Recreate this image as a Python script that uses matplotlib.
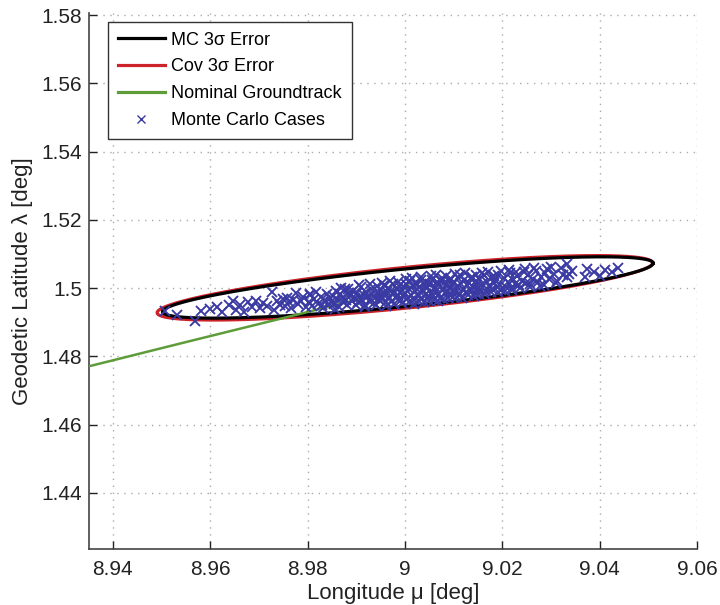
import numpy as np
import matplotlib
matplotlib.use("Agg")
import matplotlib.pyplot as plt

plt.rcParams['font.family'] = ['Liberation Sans', 'DejaVu Sans']

# ---- error ellipses: centre and 1-sigma covariance (deg^2) ----
mc_center = [9.0006, 1.5002]
mc_cov = [[2.8224e-4, 3.976e-5], [3.976e-5, 8.962e-6]]
cov_center = [9.0000, 1.5001]
cov_cov = [[2.8787e-4, 4.128e-5], [4.128e-5, 9.900e-6]]
n_sigma = 3

# ---- nominal groundtrack ----
track_lon = [8.9300, 8.9550, 8.9777, 9.0006]
track_lat = [1.4753, 1.4842, 1.4922, 1.5003]

# ---- Monte Carlo landing cases ----
mc_lon = [
    8.9508, 8.9531,
    8.9568, 8.9582, 8.9599,
    8.9615, 8.9624, 8.9638, 8.9646,
    8.9652, 8.9661, 8.9669, 8.9678, 8.9686, 8.9694,
    8.9703, 8.9709, 8.9716, 8.9726, 8.9731, 8.9738, 8.9744, 8.9749,
    8.9753, 8.9758, 8.9762, 8.9767, 8.9771, 8.9776, 8.9781, 8.9786, 8.9791, 8.9796,
    8.9802, 8.9806, 8.9810, 8.9814, 8.9818, 8.9822, 8.9827, 8.9831, 8.9835, 8.9839,
    8.9843, 8.9846, 8.9849,
    8.9852, 8.9855, 8.9858, 8.9861, 8.9864, 8.9867, 8.9870, 8.9873, 8.9876, 8.9879,
    8.9882, 8.9885, 8.9888, 8.9891, 8.9894, 8.9897,
    8.9901, 8.9903, 8.9906, 8.9909, 8.9912, 8.9915, 8.9918, 8.9921, 8.9924, 8.9927,
    8.9930, 8.9933, 8.9936, 8.9939, 8.9942, 8.9945, 8.9947, 8.9949,
    8.9951, 8.9953, 8.9956, 8.9958, 8.9961, 8.9963, 8.9966, 8.9968, 8.9971, 8.9973,
    8.9976, 8.9978, 8.9981, 8.9983, 8.9986, 8.9988, 8.9991, 8.9993, 8.9996, 8.9998,
    9.0001, 9.0003, 9.0006, 9.0008, 9.0011, 9.0013, 9.0016, 9.0018, 9.0021, 9.0023,
    9.0026, 9.0028, 9.0031, 9.0033, 9.0036, 9.0038, 9.0041, 9.0043, 9.0046, 9.0048,
    9.0051, 9.0053, 9.0056, 9.0058, 9.0061, 9.0063, 9.0066, 9.0068, 9.0071, 9.0073,
    9.0076, 9.0078, 9.0081, 9.0083, 9.0086, 9.0088, 9.0091, 9.0093, 9.0096, 9.0098,
    9.0101, 9.0104, 9.0107, 9.0110, 9.0113, 9.0116, 9.0119, 9.0122, 9.0125, 9.0128,
    9.0131, 9.0134, 9.0137, 9.0140, 9.0143, 9.0146, 9.0148, 9.0149,
    9.0152, 9.0155, 9.0159, 9.0162, 9.0166, 9.0169, 9.0172, 9.0176, 9.0179, 9.0183,
    9.0186, 9.0189, 9.0192, 9.0195, 9.0198,
    9.0203, 9.0207, 9.0211, 9.0215, 9.0219, 9.0223, 9.0227, 9.0231, 9.0235, 9.0240,
    9.0244, 9.0248,
    9.0253, 9.0258, 9.0264, 9.0269, 9.0274, 9.0279, 9.0285, 9.0291, 9.0297,
    9.0306, 9.0313, 9.0321, 9.0332, 9.0338, 9.0344, 9.0332,
    9.0369, 9.0375, 9.0388, 9.0400,
    9.0412, 9.0425, 9.0438,
    8.9805, 8.9829, 8.9857, 8.9868, 8.9884, 8.9899, 8.9905, 8.9917, 8.9929,
    8.9940, 8.9952, 8.9962, 8.9970, 8.9977, 8.9985, 8.9994,
    9.0002, 9.0009, 9.0014, 9.0019, 9.0024, 9.0029, 9.0034, 9.0039, 9.0044, 9.0049,
    9.0054, 9.0059, 9.0064, 9.0069, 9.0074, 9.0079, 9.0084, 9.0089, 9.0094, 9.0099,
    9.0103, 9.0108, 9.0114, 9.0118, 9.0123, 9.0129, 9.0135, 9.0141, 9.0147,
    9.0153, 9.0158, 9.0164, 9.0171, 9.0177, 9.0184, 9.0191, 9.0197,
    9.0205, 9.0213, 9.0221, 9.0229, 9.0237, 9.0246,
    9.0256, 9.0266, 9.0277, 9.0288, 9.0300, 9.0310, 9.0325,
]
mc_lat = [
    1.4932, 1.4921,
    1.4905, 1.4933, 1.4939,
    1.4945, 1.4929, 1.4952, 1.4962,
    1.4937, 1.4950, 1.4931, 1.4958, 1.4944, 1.4962,
    1.4941, 1.4957, 1.4948, 1.4988, 1.4936, 1.4962, 1.4951, 1.4969,
    1.4947, 1.4972, 1.4958, 1.4941, 1.4966, 1.4985, 1.4953, 1.4962, 1.4975, 1.4945,
    1.4958, 1.4979, 1.4947, 1.4968, 1.4990, 1.4955, 1.4973, 1.4942, 1.4964, 1.4982,
    1.4951, 1.4970, 1.4960,
    1.4978, 1.4955, 1.4991, 1.4967, 1.4946, 1.4983, 1.4972, 1.4959, 1.4997, 1.4965,
    1.4950, 1.4985, 1.4976, 1.4961, 1.4993, 1.4970,
    1.4986, 1.4958, 1.4973, 1.5002, 1.4965, 1.4980, 1.4951, 1.4990, 1.4976, 1.4962,
    1.4998, 1.4984, 1.4957, 1.4971, 1.5006, 1.4989, 1.4966, 1.4981,
    1.4995, 1.4968, 1.4982, 1.5010, 1.4959, 1.4988, 1.5001, 1.4974, 1.4992, 1.4963,
    1.5013, 1.4985, 1.4970, 1.4998, 1.4979, 1.5006, 1.4966, 1.4990, 1.4977, 1.5003,
    1.4986, 1.5012, 1.4971, 1.4998, 1.5020, 1.4981, 1.5005, 1.4965, 1.4993, 1.5015,
    1.4978, 1.5002, 1.4988, 1.5023, 1.4970, 1.4996, 1.5009, 1.4983, 1.5000, 1.4975,
    1.5011, 1.4987, 1.5025, 1.4976, 1.5003, 1.4993, 1.5018, 1.4981, 1.5008, 1.4970,
    1.5029, 1.4998, 1.5014, 1.4985, 1.5005, 1.4991, 1.5021, 1.4979, 1.5010, 1.4996,
    1.5018, 1.4990, 1.5003, 1.5031, 1.4982, 1.5012, 1.4997, 1.5025, 1.4988, 1.5008,
    1.5016, 1.4994, 1.5034, 1.5002, 1.4985, 1.5020, 1.5009, 1.4998,
    1.5027, 1.4996, 1.5012, 1.5038, 1.4991, 1.5019, 1.5005, 1.5030, 1.4999, 1.5015,
    1.5024, 1.5002, 1.5040, 1.5010, 1.4995,
    1.5030, 1.5004, 1.5018, 1.5043, 1.5001, 1.5025, 1.5011, 1.5036, 1.5008, 1.5022,
    1.5046, 1.5015,
    1.5038, 1.5012, 1.5027, 1.5050, 1.5019, 1.5034, 1.5010, 1.5056, 1.5026,
    1.5042, 1.5021, 1.5058, 1.5070, 1.5041, 1.5050, 1.5032,
    1.5032, 1.5055, 1.5046, 1.5035,
    1.5052, 1.5047, 1.5058,
    1.4984, 1.4950, 1.4940, 1.5000, 1.4999, 1.4950, 1.5008, 1.4944, 1.5011,
    1.4950, 1.5016, 1.4948, 1.5021, 1.4954, 1.5017, 1.4956,
    1.5026, 1.4958, 1.5030, 1.4955, 1.5008, 1.4962, 1.5033, 1.4958, 1.5017, 1.4963,
    1.5035, 1.4966, 1.5040, 1.4962, 1.5020, 1.4968, 1.5036, 1.4970, 1.5028, 1.4974,
    1.5042, 1.4975, 1.5038, 1.4972, 1.5044, 1.4980, 1.5029, 1.4978, 1.5040,
    1.4984, 1.5045, 1.4982, 1.5048, 1.4988, 1.5037, 1.4990, 1.5050,
    1.4992, 1.5052, 1.4995, 1.5048, 1.5000, 1.5055,
    1.5002, 1.5058, 1.5006, 1.5045, 1.5062, 1.5015, 1.5040,
]

x_ticks = [8.94, 8.96, 8.98, 9.00, 9.02, 9.04, 9.06]
x_tick_labels = ['8.94', '8.96', '8.98', '9', '9.02', '9.04', '9.06']
y_ticks = [1.44, 1.46, 1.48, 1.50, 1.52, 1.54, 1.56, 1.58]
y_tick_labels = ['1.44', '1.46', '1.48', '1.5', '1.52', '1.54', '1.56', '1.58']


def ellipse_points(center, cov, k, n=400):
    """Boundary of the k-sigma error ellipse of a 2x2 covariance."""
    L = np.linalg.cholesky(np.asarray(cov))
    t = np.linspace(0, 2 * np.pi, n)
    circ = np.vstack([np.cos(t), np.sin(t)])
    pts = k * (L @ circ)
    return center[0] + pts[0], center[1] + pts[1]


fig = plt.figure(figsize=(7.2, 6.05), dpi=100)
ax = fig.add_axes([0.1236, 0.0926, 0.8444, 0.8859])

cx, cy = ellipse_points(cov_center, cov_cov, n_sigma)
mx, my = ellipse_points(mc_center, mc_cov, n_sigma)

pt_color = '#3a3aa4'
ax.plot(cx, cy, color='#cc2229', lw=2.3, zorder=2)
ax.plot(mx, my, color='black', lw=2.3, zorder=2.5)
ax.plot(track_lon, track_lat, color='#5e9c3a', lw=1.8, zorder=3)
ax.plot(track_lon[-1:], track_lat[-1:], marker='|', ms=7, mew=2,
        color='#7fb040', ls='none', zorder=3)
ax.plot(mc_lon, mc_lat, ls='none', marker='x', ms=7.5, mew=1.35,
        color=pt_color, zorder=4)

# legend proxies
h_mc, = ax.plot([], [], color='black', lw=2.3)
h_cov, = ax.plot([], [], color='#cc2229', lw=2.3)
h_trk, = ax.plot([], [], color='#5e9c3a', lw=2.3)
h_pts, = ax.plot([], [], ls='none', marker='x', ms=6, mew=1.0, color=pt_color)
leg = ax.legend([h_mc, h_cov, h_trk, h_pts],
                ['MC 3σ Error', 'Cov 3σ Error', 'Nominal Groundtrack',
                 'Monte Carlo Cases'],
                loc='upper left', bbox_to_anchor=(0.031, 0.984),
                fontsize=13, frameon=True, fancybox=False, framealpha=1,
                edgecolor='#333333', handlelength=2.6, handletextpad=0.35,
                labelspacing=0.55, borderpad=0.55, borderaxespad=0.0)
leg.get_frame().set_linewidth(1.0)

ax.set_xlim(8.9351, 9.0600)
ax.set_ylim(1.4236, 1.5806)
ax.set_xticks(x_ticks)
ax.set_xticklabels(x_tick_labels)
ax.set_yticks(y_ticks)
ax.set_yticklabels(y_tick_labels)

ax.spines['top'].set_visible(False)
ax.spines['right'].set_visible(False)
for s in ('left', 'bottom'):
    ax.spines[s].set_color('#444444')
    ax.spines[s].set_linewidth(1.2)

ax.tick_params(direction='in', length=6, width=1, labelsize=15,
               colors='#222222', pad=5)
ax.tick_params(axis='x', pad=8)
ax.grid(True, color='#aaaaaa', linestyle=(0, (1, 4)), linewidth=1.0)
ax.set_axisbelow(True)

ax.set_xlabel('Longitude μ [deg]', fontsize=16, color='#222222', labelpad=3)
ax.set_ylabel('Geodetic Latitude λ [deg]', fontsize=16, color='#222222',
              labelpad=6)

fig.savefig('out.png', dpi=100)
